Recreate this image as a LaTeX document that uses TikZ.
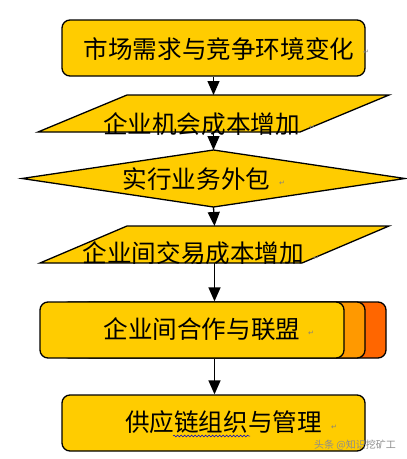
\documentclass[tikz,border=0pt]{standalone}
\usepackage{fontspec}
\newfontfamily\cjk{Noto Sans CJK SC}
\newfontfamily\symf{DejaVu Sans}
\usetikzlibrary{arrows.meta,decorations.pathmorphing}
\definecolor{gold}{HTML}{FFCC00}
\definecolor{orangeA}{HTML}{FF9900}
\definecolor{orangeB}{HTML}{FF6600}
\definecolor{wmgray}{HTML}{8C8C8C}
\begin{document}
\begin{tikzpicture}[x=1pt,y=-1pt,
  boxshape/.style={draw=black, line width=1.3pt, fill=gold, rounded corners=8pt, inner sep=0pt},
  ghost/.style={inner sep=0pt, outer sep=0pt, draw=none},
  polyshape/.style={draw=black, line width=1.3pt, fill=gold, line join=miter},
  lbl/.style={font=\cjk\fontsize{24.6}{25}\selectfont, inner sep=0pt},
  retmark/.style={font=\symf\fontsize{7}{7}\selectfont, text=gray, inner sep=0pt},
  arr/.style={line width=1.3pt, -{Triangle[width=12pt,length=14pt]}}]
\useasboundingbox (0,0) rectangle (407,459);
% box 1
\node[boxshape, minimum width=303pt, minimum height=56pt] (b1) at (213.5,48) {};
\node[lbl] (t1) at (219,49) {市场需求与竞争环境变化};
\node[retmark] (r1) at (366,52) {↵};
% parallelogram 1
\node[ghost, minimum width=351pt, minimum height=37pt] (p1) at (213.5,113.5) {};
\draw[polyshape] ([xshift=89pt]p1.north west) -- (p1.north east) -- ([xshift=-89pt]p1.south east) -- (p1.south west) -- cycle;
\node[lbl] (t2) at (201.5,124) {企业机会成本增加};
\node[retmark] (r2) at (312,127) {↵};
% diamond
\node[ghost, minimum width=383pt, minimum height=57pt] (d) at (213.5,178.5) {};
\draw[polyshape] (d.north) -- (d.east) -- (d.south) -- (d.west) -- cycle;
\node[lbl] (t3) at (196.5,179) {实行业务外包};
\node[retmark] (r3) at (282,183) {↵};
% parallelogram 2
\node[ghost, minimum width=349pt, minimum height=37pt] (p2) at (214.5,244.5) {};
\draw[polyshape] ([xshift=87pt]p2.north west) -- (p2.north east) -- ([xshift=-87pt]p2.south east) -- (p2.south west) -- cycle;
\node[lbl] (t4) at (193.5,253) {企业间交易成本增加};
\node[retmark] (r4) at (316,258) {↵};
% stacked box
\node[boxshape, fill=orangeB, minimum width=304pt, minimum height=56pt] (b3c) at (234,330) {};
\node[boxshape, fill=orangeA, minimum width=304pt, minimum height=56pt] (b3b) at (213,330) {};
\node[boxshape, minimum width=304pt, minimum height=56pt] (b3) at (192,330) {};
\node[lbl] (t5) at (202,329) {企业间合作与联盟};
\node[retmark] (r5) at (311,333) {↵};
% box 4
\node[boxshape, minimum width=303pt, minimum height=56pt] (b4) at (213.5,423) {};
\node[lbl] (t6) at (223.5,422) {供应链组织与管理};
\node[retmark] (r6) at (334,427) {↵};
\draw[blue!80!black, line width=0.5pt, decorate, decoration={snake, amplitude=0.9pt, segment length=3.5pt}] (173,436) -- (250,436);
% watermark
\node[font=\cjk\fontsize{10}{10}\selectfont, text=wmgray, inner sep=0pt] (wm) at (355,445) {头条 @知识挖矿工};
% connectors
\draw[arr] (b1.south) -- (p1.north);
\draw[arr] (p1.south) -- (d.north);
\draw[arr] (d.south) -- (p2.north);
\draw[arr] (p2.south) -- (p2.south |- b3.north);
\draw[arr] (p2.south |- b3.south) -- (p2.south |- b4.north);
\end{tikzpicture}
\end{document}
